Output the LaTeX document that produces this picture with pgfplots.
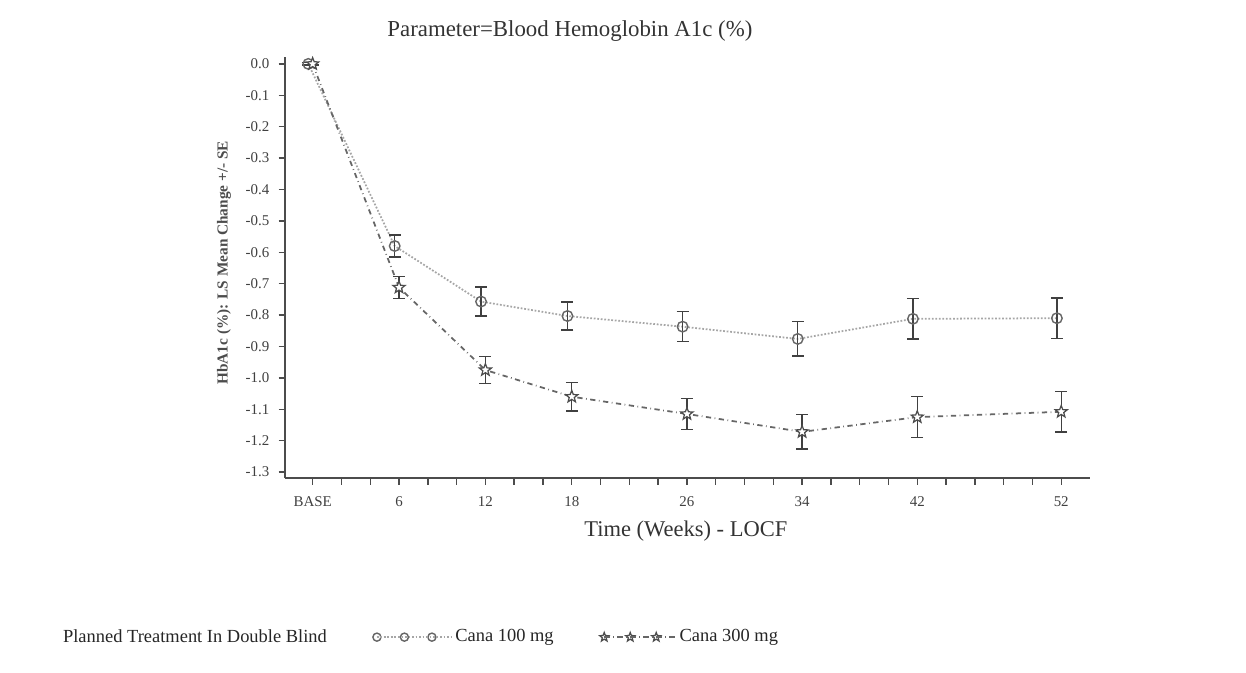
\documentclass[border=0pt]{standalone}
\usepackage{fontspec}
\setmainfont{Liberation Serif}
\usepackage{pgfplots}
\pgfplotsset{compat=1.18}

% open five-pointed star mark
\pgfdeclareplotmark{fivestar}{%
  \pgfpathmoveto{\pgfpointpolar{90}{\pgfplotmarksize}}%
  \pgfpathlineto{\pgfpointpolar{126}{0.42\pgfplotmarksize}}%
  \pgfpathlineto{\pgfpointpolar{162}{\pgfplotmarksize}}%
  \pgfpathlineto{\pgfpointpolar{198}{0.42\pgfplotmarksize}}%
  \pgfpathlineto{\pgfpointpolar{234}{\pgfplotmarksize}}%
  \pgfpathlineto{\pgfpointpolar{270}{0.42\pgfplotmarksize}}%
  \pgfpathlineto{\pgfpointpolar{306}{\pgfplotmarksize}}%
  \pgfpathlineto{\pgfpointpolar{342}{0.42\pgfplotmarksize}}%
  \pgfpathlineto{\pgfpointpolar{18}{\pgfplotmarksize}}%
  \pgfpathlineto{\pgfpointpolar{54}{0.42\pgfplotmarksize}}%
  \pgfpathclose
  \pgfusepathqfillstroke
}

% legend images with three marks each
\pgfplotsset{
  legA/.style={legend image code/.code={\draw[##1, mark size=2.3pt] plot coordinates {(0cm,0cm) (0.55cm,0cm) (1.1cm,0cm)};
    \path (0cm,0cm) -- (1.48cm,0cm);}},
  legB/.style={legend image code/.code={\draw[##1, mark size=2.7pt] plot coordinates {(0cm,0cm) (0.52cm,0cm) (1.04cm,0cm)};
    \path (0cm,0cm) -- (1.42cm,0cm);}},
  ebars/.style={error bars/.cd, y dir=both, y explicit,
    error bar style={black!75, line width=0.8pt, solid},
    error mark options={rotate=90, mark size=3.4pt, black!75, line width=0.8pt, solid}},
}

% LS mean change and SE, read off the chart
\pgfplotstableread{
x     y       e
-0.3  0.000   0.004
5.7   -0.580  0.035
11.7  -0.757  0.046
17.7  -0.803  0.045
25.7  -0.837  0.048
33.7  -0.876  0.055
41.7  -0.812  0.064
51.7  -0.810  0.065
}\canaA
\pgfplotstableread{
x     y       e
0     0.000   0.004
6     -0.712  0.035
12    -0.975  0.043
18    -1.060  0.045
26    -1.115  0.050
34    -1.172  0.055
42    -1.125  0.065
52    -1.108  0.065
}\canaB

\begin{document}
\begin{tikzpicture}
\useasboundingbox (0,0) rectangle (24.92cm,-13.46cm);
\begin{axis}[
  at={(5.70cm,-9.56cm)}, anchor=south west,
  scale only axis, width=16.1cm, height=8.42cm,
  xmin=-1.92, xmax=54, ymin=-1.319, ymax=0.022,
  axis x line=bottom, axis y line=left,
  axis line style={-, black!70, line width=0.9pt},
  tick align=outside, major tick length=0.13cm, minor tick length=0.13cm,
  every tick/.style={black!70, line width=0.8pt},
  xtick={0,6,12,18,26,34,42,52},
  xticklabels={BASE,6,12,18,26,34,42,52},
  minor xtick={2,4,8,10,14,16,20,22,24,28,30,32,36,38,40,44,46,48,50},
  ytick={0,-0.1,-0.2,-0.3,-0.4,-0.5,-0.6,-0.7,-0.8,-0.9,-1.0,-1.1,-1.2,-1.3},
  yticklabel style={xshift=-0.06cm, /pgf/number format/.cd, fixed, fixed zerofill, precision=1, assume math mode=true},
  xticklabel style={yshift=-0.12cm},
  tick label style={font=\fontsize{8.5}{10}\selectfont, text=black!75},
  title={Parameter=Blood Hemoglobin A1c (\%)},
  title style={at={(axis description cs:0.354,1.036)}, anchor=center, yshift=0pt, font=\fontsize{13}{15}\selectfont, text=black!80},
  xlabel={Time (Weeks) - LOCF},
  xlabel style={at={(axis description cs:0.498,-0.126)}, anchor=center, font=\fontsize{12.8}{14}\selectfont, text=black!80},
  ylabel={HbA1c (\%): LS Mean Change +/- SE},
  ylabel style={at={(axis description cs:-0.0758,0.511)}, anchor=center, font=\bfseries\fontsize{8.7}{10}\selectfont, text=black!70},
  legend columns=3, legend cell align=left,
  legend style={at={(axis description cs:-0.287,-0.378)}, anchor=west, draw=none,
    font=\fontsize{10.5}{12}\selectfont, text=black!85,
    /tikz/every even column/.append style={column sep=0.85cm}},
]
\addlegendimage{empty legend}
\addlegendentry{Planned Treatment In Double Blind\hspace{0.16cm}}

\addplot[gray!70, densely dotted, line width=1pt,
  mark=o, mark size=3pt, mark options={solid, draw=black!60, fill=white, line width=0.8pt},
  legA, ebars]
  table[x=x, y=y, y error=e] {\canaA};
\addlegendentry{Cana 100 mg}

\addplot[gray!80!black, dash dot, line width=1pt,
  mark=fivestar, mark size=3.6pt, mark options={solid, draw=black!70, fill=white, line width=0.7pt},
  legB, ebars]
  table[x=x, y=y, y error=e] {\canaB};
\addlegendentry{Cana 300 mg}
\end{axis}
\end{tikzpicture}
\end{document}
